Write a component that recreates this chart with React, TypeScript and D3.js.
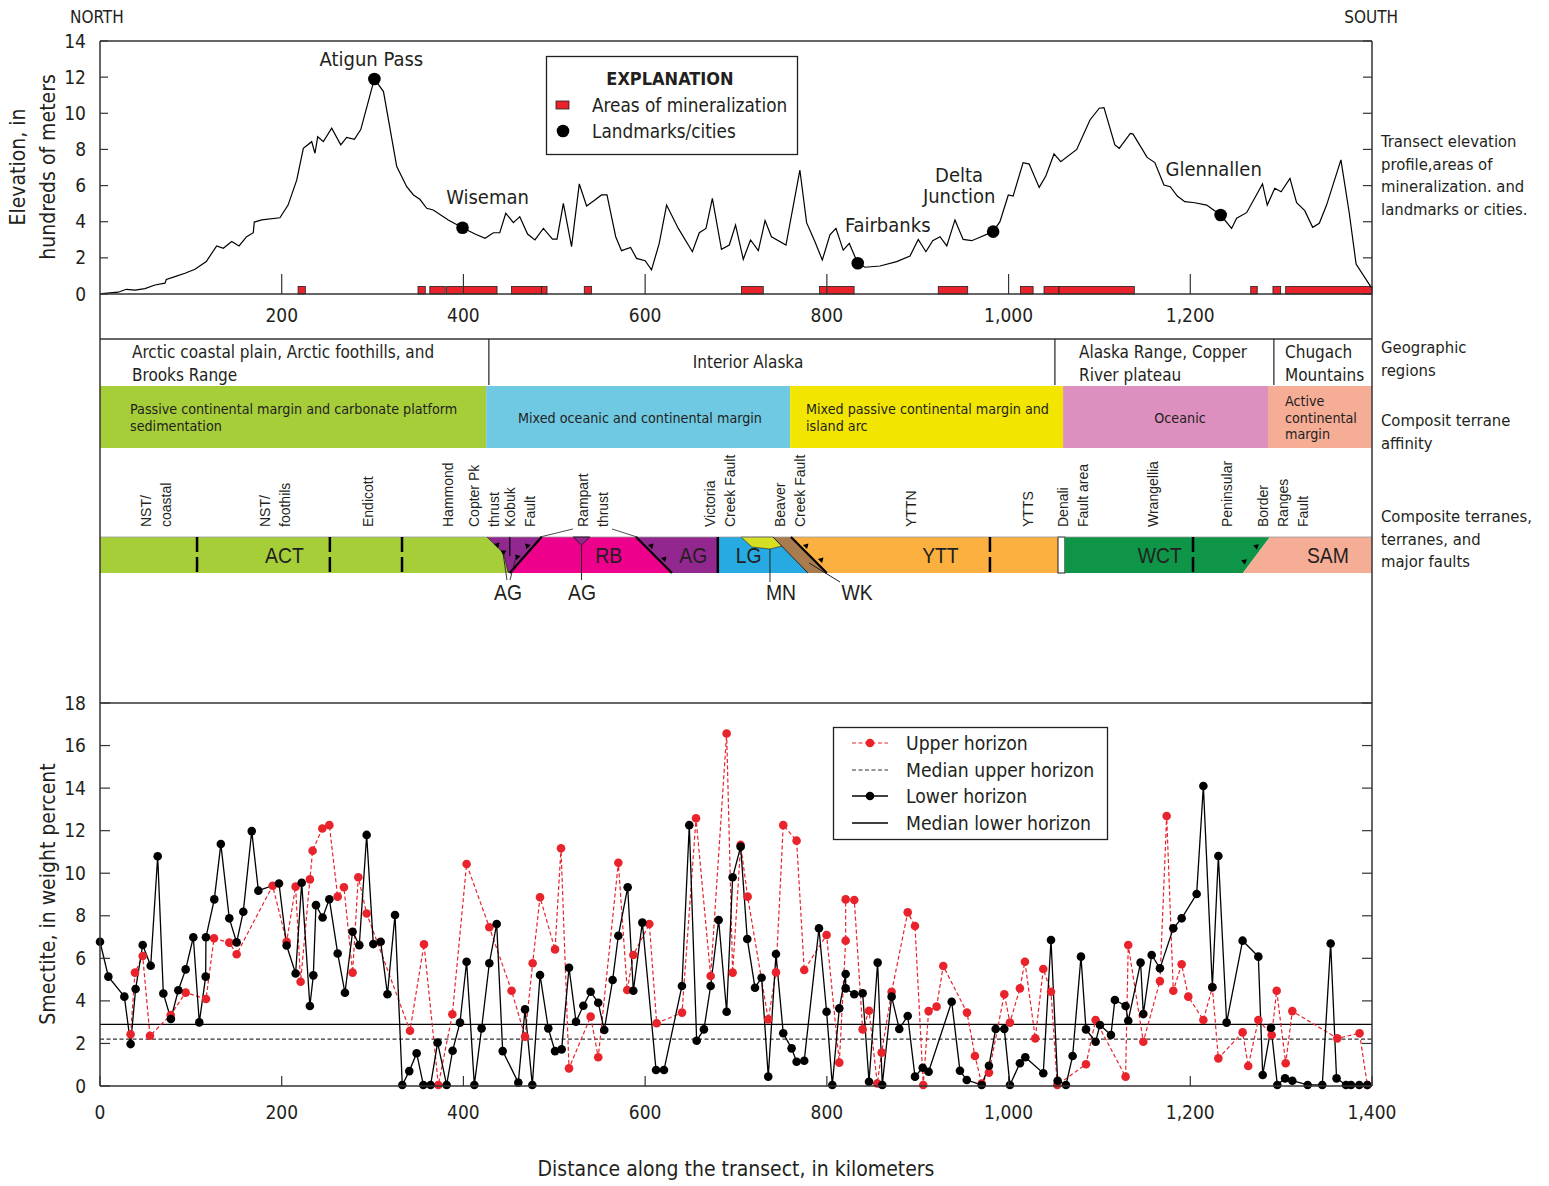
import React from 'react';
import * as d3 from 'd3';

const FONT_C = "'Liberation Sans Narrow', 'DejaVu Sans Condensed', 'Roboto Condensed', 'Noto Sans', sans-serif";
const FONT_S = "'Liberation Sans', Arial, sans-serif";

// ---------- DATA ----------
const elevationProfile: [number, number][] = [
  [0, 0], [2, 0.02], [20, 0.1], [29, 0.26], [38.5, 0.22], [49.5, 0.3], [60.5, 0.5], [71.5, 0.6], [73, 0.8],
  [82.5, 0.96], [93.5, 1.15], [104.5, 1.37], [117, 1.8], [128.4, 2.66], [135.7, 2.53], [145, 2.9], [153, 2.66],
  [161.4, 3.17], [168.7, 3.39], [169.8, 3.98], [178, 4.1], [198, 4.22], [207, 4.92], [216.5, 6.3], [223.8, 8.06],
  [233, 8.43], [236.6, 7.79], [239.6, 8.7], [245.8, 8.43], [255, 9.17], [265, 8.25], [271.5, 8.67], [280, 8.56],
  [287, 9.1], [302, 11.9], [312, 11.2], [326.6, 7.05], [337.6, 5.94], [345, 5.48], [352, 5.24], [359.6, 4.74],
  [366.8, 4.65], [383.3, 4.1], [399, 3.67], [412.8, 3.32], [423.8, 3.08], [433, 3.39], [440, 3.39], [446.6, 4.47],
  [455, 3.95], [462, 4.28], [470.6, 3.32], [478.7, 2.99], [488, 3.63], [498, 3.04], [503, 3.04], [510, 5.02],
  [519, 2.62], [527.5, 6.09], [535.6, 4.87], [544.7, 5.2], [552, 5.48], [558, 5.48], [567.6, 3.17], [574, 2.4],
  [584, 2.58], [590.5, 1.97], [600, 1.84], [607, 1.33], [615.5, 2.8], [623.6, 4.92], [636.5, 3.63], [652, 2.34],
  [659.6, 3.39], [667, 3.63], [674, 5.29], [684, 2.47], [692.6, 2.71], [699.5, 3.82], [708, 1.92], [716, 2.99],
  [724.6, 2.4], [732, 4.06], [739, 3.17], [755, 2.71], [770.3, 6.86], [777.7, 3.95], [786.9, 2.89], [795, 1.88],
  [803.4, 3.27], [810, 3.63], [818, 2.43], [824.7, 2.8], [834, 1.7], [842, 1.48], [858.5, 1.55], [876.8, 1.79],
  [891.5, 2.1], [900.6, 3.02], [909, 2.34], [916.5, 2.95], [924.5, 3.17], [932, 2.66], [941, 4.1], [950, 3.02],
  [959.4, 2.95], [968.5, 3.14], [983, 3.45], [990.5, 4.0], [999.7, 5.48], [1005, 5.42], [1016, 7.27], [1022.7, 7.19],
  [1033.7, 5.9], [1041, 6.53], [1050, 7.75], [1057.4, 7.32], [1075, 8.0], [1089.6, 9.63], [1099.8, 10.28],
  [1105, 10.31], [1117, 8.25], [1121.8, 8.06], [1134, 8.89], [1137, 8.85], [1152.5, 7.56], [1161, 7.27],
  [1171, 6.03], [1178, 5.94], [1185.7, 5.42], [1194, 5.11], [1205, 5.05], [1218, 4.92], [1233.4, 4.37],
  [1245.5, 3.63], [1251, 4.19], [1262, 4.5], [1279.5, 6.09], [1284.7, 4.92], [1293, 5.85], [1300, 5.66],
  [1309.7, 6.4], [1317, 5.05], [1326, 4.61], [1334.7, 3.69], [1342, 3.91], [1350, 4.92], [1365.8, 7.42],
  [1375, 4.47], [1382.5, 1.66], [1400, 0.3],
];

const landmarkNames = ['Atigun Pass', 'Wiseman', 'Fairbanks', 'Delta\nJunction', 'Glennallen'];
const landmarkKm = [302, 399, 834, 983, 1233.4];
const landmarkElev = [11.9, 3.67, 1.7, 3.45, 4.37];

const mineralization: [number, number][] = [
  [218, 226], [350, 358], [363, 380], [381.5, 437], [453, 486], [486, 492], [533, 541], [706, 730],
  [792, 830], [922.6, 955], [1013, 1027], [1039, 1055.5], [1055.5, 1138.4], [1266.5, 1273.7],
  [1291, 1299.5], [1305, 1400],
];

const lowerHorizon: [number, number][] = [
  [0, 6.78], [9.2, 5.14], [26.8, 4.2], [33.7, 1.97], [39.2, 4.56], [47, 6.63], [55.8, 5.65], [63.5, 10.8],
  [69.7, 4.35], [78, 3.15], [86.2, 4.5], [94.3, 5.48], [102.7, 6.99], [109.3, 2.99], [116.3, 5.14], [116.6, 6.99],
  [125.8, 8.77], [133, 11.37], [142.3, 7.88], [150.4, 6.75], [157.7, 8.19], [167, 11.98], [174.3, 9.18],
  [197, 9.52], [205.4, 6.6], [215.3, 5.29], [222, 9.55], [231, 3.76], [234.8, 5.2], [237.7, 8.5], [245, 7.92],
  [252.4, 8.78], [261.6, 6.23], [269.6, 4.38], [278, 7.25], [285.4, 6.62], [293.5, 11.8], [300.8, 6.67],
  [308.9, 6.78], [316.4, 4.31], [324.7, 8.04], [332.7, 0.05], [340.4, 0.7], [348.5, 1.54], [355.9, 0.05],
  [363.9, 0.05], [371.6, 2.04], [381.5, 0.05], [388.1, 1.66], [396.2, 2.98], [403.5, 5.84], [412, 0.05],
  [420, 2.71], [428.5, 5.77], [436.6, 7.61], [443.2, 1.64], [460.4, 0.16], [467.8, 3.6], [475.8, 0.05],
  [484.3, 5.22], [493.4, 2.71], [500.8, 1.64], [508.1, 1.72], [516.2, 5.56], [523.9, 3.02], [532, 3.77],
  [540, 4.43], [548.4, 3.91], [555, 2.63], [564.2, 4.98], [570.5, 7.06], [580.8, 9.34], [587, 4.48],
  [596.9, 7.68], [612, 0.75], [620.7, 0.75], [640.5, 4.7], [648.6, 12.26], [656.7, 2.13], [664.7, 2.66],
  [672.1, 4.7], [680.9, 7.8], [689.7, 3.49], [696.3, 9.81], [705.1, 11.25], [712.4, 6.91], [720.9, 4.62],
  [728.2, 5.09], [735.5, 0.44], [744, 6.2], [752, 2.48], [761.2, 1.77], [766.7, 1.14], [775.1, 1.19],
  [791.3, 7.41], [799.7, 3.49], [806, 0.05], [813.7, 3.65], [820.7, 5.26], [820.7, 4.59], [830.2, 4.31],
  [839.4, 4.36], [846.4, 0.2], [855.9, 5.8], [861, 0.05], [871.3, 4.2], [879.7, 2.68], [889, 3.29], [897, 0.44],
  [905.5, 0.86], [912, 0.67], [937.4, 3.96], [946.5, 0.72], [954, 0.28], [970.4, 0.05], [978.4, 0.95],
  [985.8, 2.68], [995.3, 2.68], [1001.5, 0.05], [1012.5, 1.07], [1018.4, 1.35], [1038.2, 0.6], [1046.7, 6.86],
  [1054, 0.25], [1063.2, 0.05], [1070.5, 1.41], [1079.7, 6.08], [1085.2, 2.66], [1095.8, 2.08], [1100.6, 2.87],
  [1112.7, 2.4], [1117, 4.04], [1128.8, 3.76], [1131.7, 3.07], [1145.3, 5.8], [1148.3, 3.38], [1157.5, 6.16],
  [1166.6, 5.53], [1181.3, 7.41], [1190.5, 7.88], [1207, 9.02], [1214.4, 14.1], [1224.3, 4.64], [1230.9, 10.81],
  [1240, 2.98], [1257.6, 6.83], [1274.9, 6.08], [1279.7, 0.52], [1288.9, 2.74], [1295.8, 0.05], [1304.3, 0.36],
  [1312.3, 0.25], [1329.2, 0.05], [1345.3, 0.05], [1354.5, 6.7], [1361, 0.36], [1371.4, 0.05], [1376.9, 0.05],
  [1386, 0.05], [1394.8, 0.05],
];

const upperHorizon: [number, number][] = [
  [33.7, 2.43], [38.5, 5.33], [47, 6.11], [55, 2.36], [77.8, 3.34], [94.3, 4.39], [116.7, 4.09], [125.5, 6.94],
  [142.3, 6.74], [150.4, 6.19], [190, 9.41], [205.4, 6.78], [215.3, 9.37], [220.8, 4.9], [231, 9.71], [234, 11.06],
  [244.7, 12.1], [252.4, 12.26], [261.6, 8.9], [268.5, 9.34], [278, 5.33], [284.3, 9.81], [293.5, 8.11],
  [341.2, 2.6], [356.6, 6.66], [372.4, 0.05], [387.8, 3.37], [403.5, 10.43], [428.5, 7.46], [453, 4.48],
  [467.8, 2.32], [476.2, 5.77], [484.3, 8.87], [500.8, 6.42], [507.4, 11.17], [516.2, 0.83], [540, 3.26],
  [548.4, 1.35], [570.5, 10.49], [580.3, 4.51], [587, 6.16], [604.6, 7.61], [612.7, 2.95], [640.6, 3.45],
  [656, 12.58], [672.1, 5.17], [689.7, 16.57], [696.3, 5.33], [705.1, 11.33], [712.8, 8.9], [735.5, 3.13],
  [744, 5.34], [752, 12.26], [766.7, 11.53], [775.1, 5.45], [799.7, 7.1], [813.7, 1.1], [820.7, 6.83],
  [820.7, 8.77], [830.2, 8.74], [839.4, 2.66], [846.4, 3.54], [855.5, 0.12], [860.3, 1.57], [871.3, 4.43],
  [889, 8.16], [897, 7.52], [906.1, 0.05], [912, 3.52], [920.8, 3.73], [928.1, 5.64], [954.2, 3.45], [963, 1.41],
  [970.4, 0.12], [978.4, 0.63], [995.3, 4.31], [1001.5, 2.98], [1012.5, 4.59], [1018, 5.84], [1029.4, 2.24],
  [1038.2, 5.5], [1046.7, 4.43], [1053.6, 0.05], [1085.2, 1.02], [1095.8, 3.1], [1128.8, 0.44], [1131.7, 6.63],
  [1148.3, 2.08], [1166.6, 4.93], [1174, 12.69], [1181.3, 4.48], [1190.5, 5.72], [1197.8, 4.2], [1214.4, 3.1],
  [1224.3, 4.64], [1230.9, 1.3], [1257.6, 2.52], [1263.8, 0.94], [1274.9, 3.1], [1289.6, 2.4], [1295.1, 4.48],
  [1305, 1.07], [1312.3, 3.52], [1361.8, 2.24], [1386.3, 2.48], [1394.8, 0.05],
];

const medianLower = 2.9;
const medianUpper = 2.2;

const elevTicks = [0, 2, 4, 6, 8, 10, 12, 14];
const smectiteTicks = [0, 2, 4, 6, 8, 10, 12, 14, 16, 18];
const topDistanceTicks = [200, 400, 600, 800, 1000, 1200];
const bottomDistanceTicks = [0, 200, 400, 600, 800, 1000, 1200, 1400];

// geographic regions (km extents)
const regionBounds = [0, 428, 1051, 1292, 1400];
const regionLines = [
  ['Arctic coastal plain, Arctic foothills, and', 'Brooks Range'],
  ['Interior Alaska'],
  ['Alaska Range, Copper', 'River plateau'],
  ['Chugach', 'Mountains'],
];

// composite terrane affinity (km extents)
const affinityBounds = [0, 425, 759.5, 1060, 1285.5, 1400];
const affinityLines = [
  ['Passive continental margin and carbonate platform', 'sedimentation'],
  ['Mixed oceanic and continental margin'],
  ['Mixed passive continental margin and', 'island arc'],
  ['Oceanic'],
  ['Active', 'continental', 'margin'],
];
const affinityColors = ['#a6ce39', '#6fc9e3', '#f2e600', '#dd8fbf', '#f6ad96'];

// terrane labels (center km)
const terraneLabelKm = [62, 192.6, 295, 383, 423, 462, 542.6, 682.4, 759.4, 892.6, 1021.4, 1071, 1159, 1240, 1302];
const terraneLabelText = [
  ['NST/', 'coastal'], ['NST/', 'foothils'], ['Endicott'], ['Hammond'], ['Copter Pk', 'thrust'], ['Kobuk', 'Fault'],
  ['Rampart', 'thrust'], ['Victoria', 'Creek Fault'], ['Beaver', 'Creek Fault'], ['YTTN'], ['YTTS'],
  ['Denali', 'Fault area'], ['Wrangellia'], ['Peninsular'], ['Border', 'Ranges', 'Fault'],
];

// terrane band boundaries (km)
const K = {
  actDash: [106.8, 253, 332.4],
  kobukTop: 426, kobukMid: 444, kobukBot: 449.5, kobukVert: 451, kobukFaultTop: 486,
  agSmallL: 521, agSmallC: 530, agSmallR: 539,
  rbTopR: 590, rbBotR: 629.5,
  victoria: 680,
  mnL: 705.5, mnBL: 717.6, mnBC: 737.4, mnBR: 750.6,
  wkTopL: 740.7, wkTopR: 760.5, wkBotL: 779.2, wkBotR: 800,
  yttDash: 979.5, denaliL: 1054.4, denaliR: 1062,
  wctDash: 1203, samBot: 1258, samTop: 1287.6,
};
const bandCodes = ['ACT', 'RB', 'AG', 'LG', 'YTT', 'WCT', 'SAM'];
const bandCodeKm = [203, 560, 653, 714, 925, 1166.5, 1351.5];

// ---------- LAYOUT ----------
const L = 100, R = 1372;
const x = d3.scaleLinear().domain([0, 1400]).range([L, R]);
const yTop = d3.scaleLinear().domain([0, 14]).range([294, 41]);
const yBot = d3.scaleLinear().domain([0, 18]).range([1086, 703]);

const landmarkLabelOffset = [[-3, -20], [25, -31], [30, -38], [-34, -57], [-7, -46]];
const regionTextX = [{ x: 132, a: 'start' }, { x: 748, a: 'middle' }, { x: 1079, a: 'start' }, { x: 1285, a: 'start' }];
const affinityTextX = [{ x: 130, a: 'start' }, { x: 640, a: 'middle' }, { x: 806, a: 'start' }, { x: 1180, a: 'middle' }, { x: 1285, a: 'start' }];

const RED = '#e8232b';

function tooth(px: number, py: number, angle: number, s = 5) {
  const a = (angle * Math.PI) / 180;
  const p1 = [px + Math.cos(a + Math.PI / 2) * s * 0.6, py + Math.sin(a + Math.PI / 2) * s * 0.6];
  const p2 = [px - Math.cos(a + Math.PI / 2) * s * 0.6, py - Math.sin(a + Math.PI / 2) * s * 0.6];
  const p3 = [px + Math.cos(a) * s, py + Math.sin(a) * s];
  return `M${p1[0]},${p1[1]}L${p2[0]},${p2[1]}L${p3[0]},${p3[1]}Z`;
}

export default function App() {
  const profileLine = d3.line<[number, number]>().x(d => x(d[0])).y(d => yTop(d[1]))(elevationProfile) || '';
  const lowerLine = d3.line<[number, number]>().x(d => x(d[0])).y(d => yBot(d[1]))(lowerHorizon) || '';
  const upperLine = d3.line<[number, number]>().x(d => x(d[0])).y(d => yBot(d[1]))(upperHorizon) || '';

  const bT = 537, bB = 573;
  const poly = (pts: [number, number][]) => 'M' + pts.map(p => p.join(',')).join('L') + 'Z';

  return (
    <svg width={1549} height={1186} style={{ position: 'absolute', left: 0, top: 0, background: '#fff' }}
      fontFamily={FONT_C}>
      <rect x={0} y={0} width={1549} height={1186} fill="#fff" />
      <text x={70} y={23} fontSize={17} fill="#231f20">NORTH</text>
      <text x={1398} y={23} fontSize={17} fill="#231f20" textAnchor="end">SOUTH</text>

      {/* ---- Top chart ---- */}
      <g>
        {mineralization.map((m, i) => (
          <rect key={i} x={x(m[0])} y={yTop(0) - 7.5} width={x(m[1]) - x(m[0])} height={7.5}
            fill={RED} stroke="#231f20" strokeWidth={0.8} />
        ))}
        <path d={profileLine} fill="none" stroke="#000" strokeWidth={1.2} />
        {topDistanceTicks.map(t => (
          <g key={t}>
            <line x1={x(t)} x2={x(t)} y1={yTop(0)} y2={yTop(0) - 20} stroke="#333" strokeWidth={1.2} />
            <text x={x(t)} y={322} fontSize={19} textAnchor="middle" fill="#231f20">{d3.format(',')(t)}</text>
          </g>
        ))}
        {elevTicks.map(t => (
          <g key={t}>
            <line x1={L} x2={L + 8} y1={yTop(t)} y2={yTop(t)} stroke="#333" strokeWidth={1.2} />
            <line x1={R - 9} x2={R} y1={yTop(t)} y2={yTop(t)} stroke="#333" strokeWidth={1.2} />
            <text x={86} y={yTop(t) + 6.5} fontSize={19} textAnchor="end" fill="#231f20">{t}</text>
          </g>
        ))}
        <line x1={L} x2={R} y1={yTop(0)} y2={yTop(0)} stroke="#333" strokeWidth={1.5} />
        {landmarkNames.map((n, i) => {
          const px = x(landmarkKm[i]), py = yTop(landmarkElev[i]);
          const lines = n.split('\n');
          const [dx, dy] = landmarkLabelOffset[i];
          return (
            <g key={n}>
              <circle cx={px} cy={py} r={6.3} fill="#000" />
              {lines.map((l, j) => (
                <text key={j} x={px + dx} y={py + dy + j * 21 + 7} fontSize={20} textAnchor="middle" fill="#231f20">{l}</text>
              ))}
            </g>
          );
        })}
        <rect x={546.5} y={56.5} width={251} height={98} fill="#fff" stroke="#231f20" strokeWidth={1.3} />
        <text x={670} y={85} fontSize={18} fontWeight="bold" textAnchor="middle" fill="#231f20">EXPLANATION</text>
        <rect x={556} y={101} width={13} height={8} fill={RED} stroke="#231f20" strokeWidth={0.8} />
        <text x={592} y={112} fontSize={18.8} fill="#231f20">Areas of mineralization</text>
        <circle cx={563} cy={131} r={6.3} fill="#000" />
        <text x={592} y={138} fontSize={18.8} fill="#231f20">Landmarks/cities</text>
        <text transform="translate(25,167) rotate(-90)" fontSize={21} textAnchor="middle" fill="#231f20">Elevation, in</text>
        <text transform="translate(55,167) rotate(-90)" fontSize={21} textAnchor="middle" fill="#231f20">hundreds of meters</text>
      </g>

      <g fontSize={16.5} fill="#231f20">
        {['Transect elevation', 'profile,areas of', 'mineralization. and', 'landmarks or cities.'].map((t, i) => (
          <text key={t} x={1381} y={147 + i * 22.7}>{t}</text>
        ))}
        {['Geographic', 'regions'].map((t, i) => <text key={t} x={1381} y={353 + i * 22.5}>{t}</text>)}
        {['Composit terrane', 'affinity'].map((t, i) => <text key={t} x={1381} y={426 + i * 22.5}>{t}</text>)}
        {['Composite terranes,', 'terranes, and', 'major faults'].map((t, i) => <text key={t} x={1381} y={522 + i * 22.5}>{t}</text>)}
      </g>

      <line x1={L} x2={R} y1={339} y2={339} stroke="#333" strokeWidth={1.5} />
      {regionBounds.slice(1, -1).map((b, i) => (
        <line key={i} x1={x(b)} x2={x(b)} y1={339} y2={385} stroke="#231f20" strokeWidth={1.2} />
      ))}
      {regionLines.map((ls, i) => (
        <g key={i}>
          {ls.map((l, j) => (
            <text key={j} x={regionTextX[i].x} textAnchor={regionTextX[i].a as any}
              y={ls.length === 1 ? 368 : 358 + j * 23} fontSize={17} fill="#231f20">{l}</text>
          ))}
        </g>
      ))}

      {affinityColors.map((c, i) => (
        <rect key={i} x={x(affinityBounds[i])} y={386} width={x(affinityBounds[i + 1]) - x(affinityBounds[i])} height={62} fill={c} />
      ))}
      {affinityLines.map((ls, i) => (
        <g key={i}>
          {ls.map((l, j) => {
            const y0 = ls.length === 1 ? 423 : ls.length === 2 ? 414 : 406;
            return (
              <text key={j} x={affinityTextX[i].x} textAnchor={affinityTextX[i].a as any}
                y={y0 + j * 16.5} fontSize={14.2} fill="#231f20">{l}</text>
            );
          })}
        </g>
      ))}

      <g fontFamily={FONT_S} fontSize={14} fill="#231f20">
        {terraneLabelText.map((ls, i) => (
          <g key={i}>
            {ls.map((l, j) => {
              const cx = x(terraneLabelKm[i]) - (ls.length - 1) * 10 + j * 20;
              return <text key={j} transform={`translate(${cx + 5},527) rotate(-90)`}>{l}</text>;
            })}
          </g>
        ))}
      </g>

      <g>
        <path d={poly([[x(0), bT], [x(K.kobukTop), bT], [x(K.kobukMid), 553], [x(K.kobukBot), bB], [x(0), bB]])} fill="#a6ce39" />
        <path d={poly([[x(K.kobukTop), bT], [x(K.kobukFaultTop), bT], [x(K.kobukVert), bB], [x(K.kobukBot), bB], [x(K.kobukMid), 553]])} fill="#92278f" />
        <path d={poly([[x(K.kobukFaultTop), bT], [x(K.rbTopR), bT], [x(K.rbBotR), bB], [x(K.kobukVert), bB]])} fill="#ec008c" />
        <path d={poly([[x(K.rbTopR), bT], [x(K.victoria), bT], [x(K.victoria), bB], [x(K.rbBotR), bB]])} fill="#92278f" />
        <path d={poly([[x(K.victoria), bT], [x(K.wkTopL), bT], [x(K.wkBotL), bB], [x(K.victoria), bB]])} fill="#27aae1" />
        <path d={poly([[x(K.mnL), bT], [x(K.wkTopL), bT], [x(K.mnBR), 546], [x(K.mnBC), 549], [x(K.mnBL), 547]])} fill="#d7df23" stroke="#231f20" strokeWidth={0.6} />
        <path d={poly([[x(K.wkTopL), bT], [x(K.wkTopR), bT], [x(K.wkBotR), bB], [x(K.wkBotL), bB]])} fill="#a97c50" />
        <path d={poly([[x(K.wkTopR), bT], [x(K.denaliL), bT], [x(K.denaliL), bB], [x(K.wkBotR), bB]])} fill="#fbb040" />
        <rect x={x(K.denaliL)} y={bT} width={x(K.denaliR) - x(K.denaliL)} height={bB - bT} fill="#fff" stroke="#231f20" strokeWidth={1} />
        <path d={poly([[x(K.denaliR), bT], [x(K.samTop), bT], [x(K.samBot), bB], [x(K.denaliR), bB]])} fill="#0f9548" />
        <path d={poly([[x(K.samTop), bT], [x(1400), bT], [x(1400), bB], [x(K.samBot), bB]])} fill="#f6ad96" />
        <line x1={L} x2={R} y1={bT} y2={bT} stroke="#999" strokeWidth={0.8} />

        {[...K.actDash, K.yttDash, K.wctDash].map((k, i) => (
          <line key={i} x1={x(k)} x2={x(k)} y1={bT} y2={bB} stroke="#000" strokeWidth={2.5} strokeDasharray="15 5" />
        ))}
        <path d={`M${x(K.kobukTop)},${bT}L${x(K.kobukMid)},553L${x(K.kobukBot)},${bB}`} fill="none" stroke="#231f20" strokeWidth={0.8} />
        <line x1={x(K.kobukFaultTop)} y1={bT} x2={x(K.kobukVert)} y2={bB} stroke="#000" strokeWidth={2.2} />
        <line x1={x(K.kobukVert)} y1={bT} x2={x(K.kobukVert)} y2={556} stroke="#000" strokeWidth={1.2} />
        <path d={tooth(x(K.kobukFaultTop) - 13, bT + 10, 225)} fill="#000" />
        <path d={tooth(x(K.kobukFaultTop) - 23, bT + 21, 225)} fill="#000" />
        <path d={tooth(x(K.kobukTop) + 9, bT + 9, -45)} fill="#000" />
        <path d={tooth(x(K.kobukTop) + 15, bT + 16, -30)} fill="#000" />
        <path d={poly([[x(K.agSmallL), bT], [x(K.agSmallR), bT], [x(K.agSmallC), 545]])} fill="#92278f" stroke="#231f20" strokeWidth={1} />
        <line x1={x(K.agSmallC)} x2={x(K.agSmallC)} y1={545} y2={580} stroke="#231f20" strokeWidth={1} />
        <line x1={540} y1={537} x2={573} y2={529} stroke="#231f20" strokeWidth={0.8} />
        <line x1={612} y1={529} x2={637} y2={537} stroke="#231f20" strokeWidth={0.8} />
        <line x1={x(K.rbTopR)} y1={bT} x2={x(K.rbBotR)} y2={bB} stroke="#000" strokeWidth={2.2} />
        <path d={tooth(x(K.rbTopR) + 14, bT + 10, -45)} fill="#000" />
        <path d={tooth(x(K.rbTopR) + 27, bT + 23, -45)} fill="#000" />
        <line x1={x(K.victoria)} x2={x(K.victoria)} y1={bT} y2={bB} stroke="#000" strokeWidth={2.5} />
        <line x1={x(K.mnBC)} x2={x(K.mnBC)} y1={549} y2={582} stroke="#231f20" strokeWidth={1} />
        <line x1={x(K.wkTopL)} y1={bT} x2={x(K.wkBotL)} y2={bB} stroke="#231f20" strokeWidth={1} />
        <line x1={x(K.wkTopR)} y1={bT} x2={x(K.wkBotR)} y2={bB} stroke="#000" strokeWidth={2.2} />
        <path d={tooth(x(K.wkTopR) + 14, bT + 10, -45)} fill="#000" />
        <path d={tooth(x(K.wkTopR) + 29, bT + 24, -45)} fill="#000" />
        <line x1={809} y1={563} x2={840} y2={582} stroke="#231f20" strokeWidth={1} />
        <path d={tooth(x(K.samTop) - 12, bT + 10, 200)} fill="#000" />
        <path d={tooth(x(K.samTop) - 24, bT + 25, 200)} fill="#000" />
        <line x1={503} y1={553} x2={507} y2={580} stroke="#231f20" strokeWidth={0.9} />
        <line x1={516} y1={557} x2={510} y2={580} stroke="#231f20" strokeWidth={0.9} />

        {bandCodes.map((c, i) => (
          <text key={c} x={x(bandCodeKm[i])} y={bB - 10} fontSize={22} textAnchor="middle" fill="#231f20"
            fontFamily={FONT_S} transform={`translate(${x(bandCodeKm[i])},${bB - 10}) scale(0.88,1) translate(${-x(bandCodeKm[i])},${-(bB - 10)})`}>{c}</text>
        ))}
        {[['AG', 508], ['AG', 582], ['MN', 781], ['WK', 857]].map(([t, px], i) => (
          <text key={i} x={px as number} y={600} fontSize={22} textAnchor="middle" fill="#231f20" fontFamily={FONT_S}
            transform={`translate(${px},600) scale(0.88,1) translate(${-(px as number)},-600)`}>{t}</text>
        ))}
      </g>

      {/* ---- Bottom chart ---- */}
      <g>
        <line x1={L} x2={R} y1={703} y2={703} stroke="#333" strokeWidth={1.5} />
        <line x1={L} x2={R} y1={yBot(medianLower)} y2={yBot(medianLower)} stroke="#000" strokeWidth={1.3} />
        <line x1={L} x2={R} y1={yBot(medianUpper)} y2={yBot(medianUpper)} stroke="#333" strokeWidth={1.3} strokeDasharray="4 2.5" />
        <path d={upperLine} fill="none" stroke={RED} strokeWidth={1.2} strokeDasharray="4 2.5" />
        <path d={lowerLine} fill="none" stroke="#000" strokeWidth={1.3} />
        {upperHorizon.map((d, i) => <circle key={'u' + i} cx={x(d[0])} cy={yBot(d[1])} r={4.3} fill={RED} />)}
        {lowerHorizon.map((d, i) => <circle key={'l' + i} cx={x(d[0])} cy={yBot(d[1])} r={4.3} fill="#000" />)}
        {smectiteTicks.map(t => (
          <g key={t}>
            <line x1={L} x2={L + 10} y1={yBot(t)} y2={yBot(t)} stroke="#333" strokeWidth={1.2} />
            <line x1={R - 10} x2={R} y1={yBot(t)} y2={yBot(t)} stroke="#333" strokeWidth={1.2} />
            <text x={86} y={yBot(t) + 6.5} fontSize={19} textAnchor="end" fill="#231f20">{t}</text>
          </g>
        ))}
        {bottomDistanceTicks.map(t => (
          <g key={t}>
            <line x1={x(t)} x2={x(t)} y1={yBot(0)} y2={yBot(0) - 10} stroke="#333" strokeWidth={1.2} />
            <text x={x(t)} y={1119} fontSize={19} textAnchor="middle" fill="#231f20">{d3.format(',')(t)}</text>
          </g>
        ))}
        <line x1={L} x2={R} y1={yBot(0)} y2={yBot(0)} stroke="#333" strokeWidth={1.5} />
        <text x={736} y={1176} fontSize={21} textAnchor="middle" fill="#231f20">Distance along the transect, in kilometers</text>
        <text transform="translate(55,894) rotate(-90)" fontSize={21} textAnchor="middle" fill="#231f20">Smectite, in weight percent</text>

        <rect x={833.5} y={727.5} width={274} height={112} fill="#fff" stroke="#231f20" strokeWidth={1.3} />
        <line x1={852} x2={888} y1={743} y2={743} stroke={RED} strokeWidth={1.2} strokeDasharray="4 2.5" />
        <circle cx={870} cy={743} r={4.3} fill={RED} />
        <line x1={852} x2={888} y1={770} y2={770} stroke="#333" strokeWidth={1.2} strokeDasharray="4 2.5" />
        <line x1={852} x2={888} y1={796} y2={796} stroke="#000" strokeWidth={1.3} />
        <circle cx={870} cy={796} r={4.3} fill="#000" />
        <line x1={852} x2={888} y1={823} y2={823} stroke="#000" strokeWidth={1.3} />
        {['Upper horizon', 'Median upper horizon', 'Lower horizon', 'Median lower horizon'].map((t, i) => (
          <text key={t} x={906} y={750 + i * 26.7} fontSize={19.2} fill="#231f20">{t}</text>
        ))}
      </g>

      <line x1={L} x2={R} y1={41} y2={41} stroke="#333" strokeWidth={1.5} />
      <line x1={L} x2={L} y1={41} y2={1086} stroke="#333" strokeWidth={1.5} />
      <line x1={R} x2={R} y1={41} y2={1086} stroke="#333" strokeWidth={1.5} />
    </svg>
  );
}
